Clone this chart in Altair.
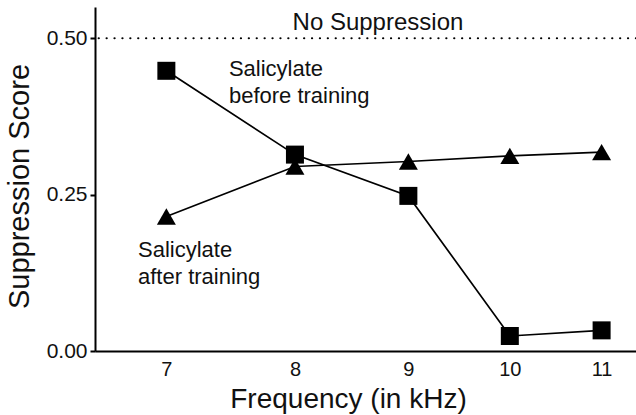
import altair as alt
import pandas as pd

# Frequencies tested (kHz) and mean suppression scores for each condition
freqs = [7, 8, 9, 10, 11]
before_training = [0.448, 0.314, 0.248, 0.024, 0.033]
after_training = [0.215, 0.295, 0.303, 0.312, 0.318]
series_names = ["Salicylate before training", "Salicylate after training"]
y_ticks = [0.0, 0.25, 0.5]

df = pd.DataFrame({
    "freq": freqs * 2,
    "score": before_training + after_training,
    "series": [series_names[0]] * len(freqs) + [series_names[1]] * len(freqs),
})

FONT = "Liberation Sans"

x_scale = alt.Scale(type="log", domain=[6.5, 11.4], nice=False, zero=False)
y_scale = alt.Scale(domain=[0, 0.55], nice=False)

x_enc = alt.X(
    "freq:Q",
    scale=x_scale,
    axis=alt.Axis(
        values=freqs,
        format="d",
        title="Frequency (in kHz)",
        ticks=False,
        labelFontSize=20,
        labelPadding=8,
        titleFontSize=28,
        titleFontWeight="normal",
        titleX=253,
        titleY=56,
        titleBaseline="alphabetic",
        titleAnchor="start",
        titleAlign="center",
    ),
)
y_enc = alt.Y(
    "score:Q",
    scale=y_scale,
    axis=alt.Axis(
        values=y_ticks,
        format=".2f",
        title="Suppression Score",
        tickSize=5,
        labelFontSize=21,
        labelPadding=3,
        titleFontSize=29,
        titleFontWeight="normal",
        titleAngle=-90,
        titleX=-67,
        titleY=179,
        titleBaseline="alphabetic",
        titleAlign="center",
    ),
)

lines = alt.Chart(df).mark_line(color="black", strokeWidth=1.7).encode(
    x=x_enc, y=y_enc, detail="series:N"
)

points = alt.Chart(df).mark_point(filled=True, opacity=1, color="black").encode(
    x="freq:Q",
    y="score:Q",
    shape=alt.Shape(
        "series:N",
        scale=alt.Scale(domain=series_names, range=["square", "triangle-up"]),
        legend=None,
    ),
    size=alt.Size(
        "series:N",
        scale=alt.Scale(domain=series_names, range=[324, 361]),
        legend=None,
    ),
)

# "No Suppression" reference level
ref = alt.Chart(pd.DataFrame({"score": [0.5]})).mark_rule(
    color="black", strokeWidth=2.2, strokeDash=[0.1, 7.8], strokeCap="round"
).encode(y="score:Q")

ref_label = alt.Chart().mark_text(
    text="No Suppression", font=FONT, fontSize=24, align="center",
    baseline="alphabetic", color="#111"
).encode(x=alt.datum(8.72), y=alt.datum(0.513))

before_label = alt.Chart().mark_text(
    text=["Salicylate", "before training"], font=FONT, fontSize=22,
    lineHeight=27, align="left", baseline="alphabetic", color="#111"
).encode(x=alt.datum(7.47), y=alt.datum(0.44))

after_label = alt.Chart().mark_text(
    text=["Salicylate", "after training"], font=FONT, fontSize=22,
    lineHeight=27, align="left", baseline="alphabetic", color="#111"
).encode(x=alt.datum(6.797), y=alt.datum(0.1503))

chart = alt.layer(ref, lines, points, ref_label, before_label, after_label).properties(
    width=541,
    height=344,
    padding={"left": 95, "top": 7, "right": 0, "bottom": 64},
    autosize=alt.AutoSizeParams(type="none"),
    background="white",
).configure_view(stroke=None).configure_axis(
    grid=False,
    domainColor="black",
    domainWidth=2,
    tickColor="black",
    tickWidth=2,
    labelColor="#111",
    titleColor="#111",
    labelFont=FONT,
    titleFont=FONT,
)

chart.save("out.html", embed_options={"renderer": "svg", "actions": False})
